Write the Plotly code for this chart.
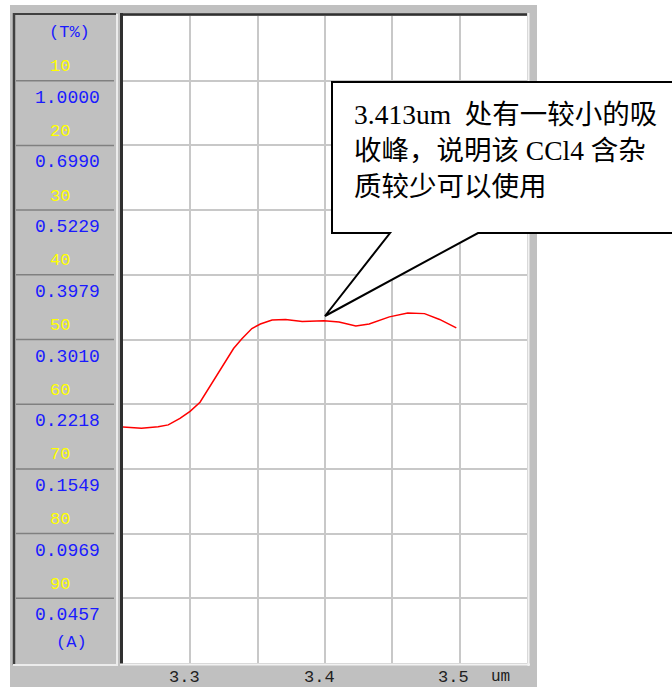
import plotly.graph_objects as go

# ---- data ----
wavelength_um = [3.2487, 3.2637, 3.2761, 3.2836, 3.2923, 3.2998, 3.3072, 3.3134, 3.3184,
                 3.3246, 3.3321, 3.3383, 3.3457, 3.3520, 3.3607, 3.3707, 3.3831, 3.3993,
                 3.4104, 3.4229, 3.4328, 3.4478, 3.4614, 3.4739, 3.4851, 3.4975]
transmittance_pct = [63.5, 63.7, 63.5, 63.2, 62.2, 61.1, 59.7, 57.6, 56.1,
                     54.0, 51.4, 49.9, 48.3, 47.6, 47.0, 46.9, 47.2, 47.1,
                     47.3, 47.9, 47.6, 46.5, 45.9, 46.0, 46.9, 48.2]

t_levels = [10, 20, 30, 40, 50, 60, 70, 80, 90]
t_labels = ["10", "20", "30", "40", "50", "60", "70", "80", "90"]
a_labels = ["1.0000", "0.6990", "0.5229", "0.3979", "0.3010",
            "0.2218", "0.1549", "0.0969", "0.0457"]
x_tick_vals = [3.3, 3.4, 3.5]
x_tick_text = ["3.3", "3.4", "3.5"]
x_unit = "um"
callout_text = "3.413um  处有一较小的吸<br>收峰，说明该 CCl4 含杂<br>质较少可以使用"

# ---- pixel helpers (layout) ----
W, H = 672, 687
L, R, T, B = 123, 527, 16, 663


def px_x(p):
    return (p - L) / (R - L)


def px_y(p):
    return (B - p) / (B - T)


fig = go.Figure()
fig.add_trace(go.Scatter(x=wavelength_um, y=transmittance_pct, mode="lines",
                         line=dict(color="#ff0000", width=1.5), hoverinfo="skip",
                         showlegend=False))

shapes = []
# outer gray frame and white plot area
shapes.append(dict(type="rect", xref="paper", yref="paper", x0=px_x(10), x1=px_x(537),
                   y0=px_y(690), y1=px_y(5), fillcolor="#c0c0c0", line=dict(width=0),
                   layer="below"))
shapes.append(dict(type="rect", xref="paper", yref="paper", x0=px_x(123), x1=px_x(527),
                   y0=px_y(663), y1=px_y(16), fillcolor="#ffffff", line=dict(width=0),
                   layer="below"))


def seg(x0, y0, x1, y1, color, width):
    return dict(type="line", xref="paper", yref="paper", x0=px_x(x0), x1=px_x(x1),
                y0=px_y(y0), y1=px_y(y1), line=dict(color=color, width=width))


# left panel borders
shapes.append(seg(14, 13, 14, 665, "#404040", 2.5))
shapes.append(seg(13, 14, 116, 14, "#404040", 2))
shapes.append(seg(117, 14, 117, 665, "#ececec", 2))
shapes.append(seg(13, 665, 118, 665, "#ececec", 2))
# plot borders (sunken look)
shapes.append(seg(121.5, 13, 121.5, 664, "#303030", 3))
shapes.append(seg(120, 14.5, 527, 14.5, "#303030", 2.5))
shapes.append(seg(528.5, 13, 528.5, 666, "#f2f2f2", 2))
shapes.append(seg(120, 664.5, 530, 664.5, "#f2f2f2", 2))
# panel separators at each T level
for lv in t_levels:
    shapes.append(dict(type="line", xref="paper", yref="y", x0=px_x(16), x1=px_x(114),
                       y0=lv, y1=lv, line=dict(color="#808080", width=1.5)))

# callout bubble
path = ("M {a},{b} L {c},{b} L {c},{d} L {e},{d} L {f},{g} L {h},{d} L {a},{d} Z").format(
    a=px_x(332), b=px_y(82), c=px_x(700), d=px_y(233), e=px_x(478),
    f=px_x(325), g=px_y(316), h=px_x(390))
shapes.append(dict(type="path", xref="paper", yref="paper", path=path,
                   fillcolor="#ffffff", line=dict(color="#000000", width=2)))

annotations = []
mono = "Liberation Mono, DejaVu Sans Mono, monospace"
for lv, tl, al in zip(t_levels, t_labels, a_labels):
    annotations.append(dict(xref="paper", yref="y", x=px_x(60), y=lv, yshift=14,
                            text=tl, showarrow=False, xanchor="center", yanchor="middle",
                            font=dict(family=mono, size=17, color="#ffff00")))
    annotations.append(dict(xref="paper", yref="y", x=px_x(67), y=lv, yshift=-17,
                            text=al, showarrow=False, xanchor="center", yanchor="middle",
                            font=dict(family=mono, size=18, color="#1a1aff")))
annotations.append(dict(xref="paper", yref="paper", x=px_x(69), y=px_y(32), text="(T%)",
                        showarrow=False, xanchor="center", yanchor="middle",
                        font=dict(family=mono, size=17, color="#1a1aff")))
annotations.append(dict(xref="paper", yref="paper", x=px_x(71), y=px_y(642), text="(A)",
                        showarrow=False, xanchor="center", yanchor="middle",
                        font=dict(family=mono, size=17, color="#1a1aff")))
for xv, xt in zip(x_tick_vals, x_tick_text):
    annotations.append(dict(xref="x", yref="paper", x=xv, xshift=-6, y=px_y(677),
                            text=xt, showarrow=False, xanchor="center", yanchor="middle",
                            font=dict(family=mono, size=17, color="#202020")))
annotations.append(dict(xref="paper", yref="paper", x=px_x(500), y=px_y(677), text=x_unit,
                        showarrow=False, xanchor="center", yanchor="middle",
                        font=dict(family=mono, size=16, color="#202020")))
annotations.append(dict(xref="paper", yref="paper", x=px_x(352), y=px_y(150),
                        text=callout_text, showarrow=False, xanchor="left",
                        yanchor="middle", align="left",
                        font=dict(family="Liberation Serif, Noto Sans CJK SC", size=27.5,
                                  color="#000000")))

fig.update_layout(
    width=W, height=H,
    margin=dict(l=L, r=W - R, t=T, b=H - B, pad=0),
    paper_bgcolor="#ffffff", plot_bgcolor="#ffffff",
    shapes=shapes, annotations=annotations, showlegend=False,
    xaxis=dict(range=[3.25, 3.55], tick0=3.25, dtick=0.05, showgrid=True,
               gridcolor="#c8c8c8", gridwidth=2, showticklabels=False, zeroline=False,
               showline=False, ticks=""),
    yaxis=dict(range=[100, 0], tick0=0, dtick=10, showgrid=True,
               gridcolor="#c8c8c8", gridwidth=2, showticklabels=False, zeroline=False,
               showline=False, ticks=""),
)

fig.write_html("out.html", config={"displayModeBar": False},
               post_script="document.body.style.margin='0';document.body.style.overflow='hidden';")
